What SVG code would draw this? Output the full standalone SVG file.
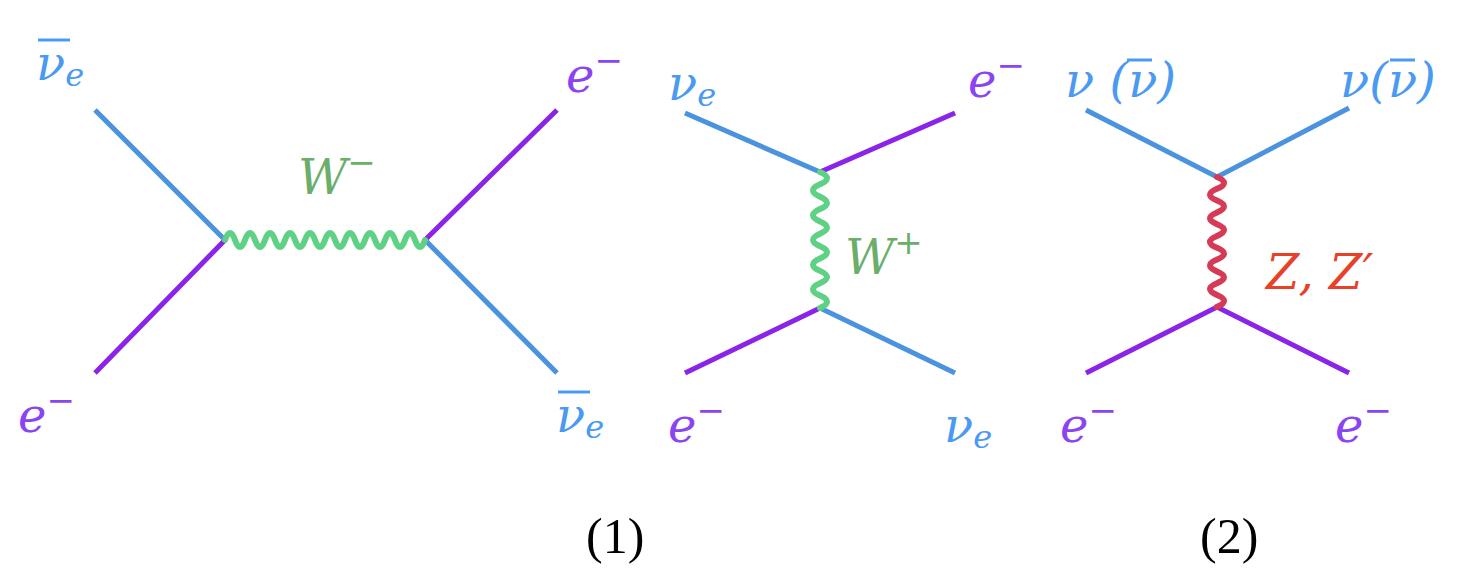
<svg xmlns="http://www.w3.org/2000/svg" width="1476" height="586" viewBox="0 0 1476 586">
<style>
.l{stroke-width:5;fill:none;stroke-linecap:butt}
.b{stroke:#4b93df}.p{stroke:#8a24e8}
.w{stroke-width:6;fill:none;stroke-linecap:round}
.ob{stroke:#4a9af2;stroke-width:3}
text{font-family:"DejaVu Serif","Liberation Serif",serif;font-style:italic;font-size:48px}
.tb{fill:#4a9af2}.tp{fill:#8b45f0}
.n{font-family:"Liberation Serif",serif;font-style:normal;fill:#000;font-size:50px}
</style>
<rect width="1476" height="586" fill="#fff"/>
<g id="connectors">
<path class="l b" d="M95,110L225,240M425,240L557,373"/>
<path class="l p" d="M95,373L225,240M425,240L557,110"/>
<path class="w" stroke="#5fd185" d="M225,240q5,-14 10,0t10,0t10,0t10,0t10,0t10,0t10,0t10,0t10,0t10,0t10,0t10,0t10,0t10,0t10,0t10,0t10,0t10,0t10,0t10,0"/>
<path class="l b" d="M685,113L820,172M820,308L955,373"/>
<path class="l p" d="M820,172L955,113M685,373L820,308"/>
<path class="w" stroke="#5fd185" d="M820,172q14,6.18 0,12.36t0,12.36t0,12.36t0,12.36t0,12.36t0,12.36t0,12.36t0,12.36t0,12.36t0,12.36t0,12.36"/>
<path class="l b" d="M1086,110L1217,177L1349,108"/>
<path class="l p" d="M1086,373L1217,307L1349,373"/>
<path class="w" stroke="#d63a55" d="M1217,177q14,5.9 0,11.8t0,11.8t0,11.8t0,11.8t0,11.8t0,11.8t0,11.8t0,11.8t0,11.8t0,11.8t0,11.8"/>
</g>
<g id="d1">
<line class="ob" x1="38" y1="40" x2="70" y2="40"/>
<text x="36" y="80" class="tb">ν<tspan font-size="32" dy="6">e</tspan></text>
<text x="18" y="432" class="tp">e<tspan font-size="34" dy="-20">−</tspan></text>
<text x="298" y="194" fill="#6aae6a">W<tspan font-size="34" dy="-20">−</tspan></text>
<text x="566" y="92" class="tp">e<tspan font-size="34" dy="-20">−</tspan></text>
<line class="ob" x1="558" y1="392" x2="590" y2="392"/>
<text x="556" y="432" class="tb">ν<tspan font-size="32" dy="6">e</tspan></text>
</g>
<g id="d2">
<text x="668" y="100" class="tb">ν<tspan font-size="32" dy="6">e</tspan></text>
<text x="968" y="97" class="tp">e<tspan font-size="34" dy="-20">−</tspan></text>
<text x="845" y="274" fill="#6aae6a">W<tspan font-size="34" dy="-20">+</tspan></text>
<text x="668" y="442" class="tp">e<tspan font-size="34" dy="-20">−</tspan></text>
<text x="944" y="442" class="tb">ν<tspan font-size="32" dy="6">e</tspan></text>
</g>
<g id="d3">
<text x="1065" y="97" class="tb">ν (ν)</text>
<line class="ob" x1="1127" y1="60" x2="1152" y2="60"/>
<text x="1340" y="97" class="tb">ν(ν)</text>
<line class="ob" x1="1390" y1="60" x2="1415" y2="60"/>
<text x="1266" y="289" fill="#e8412a">Z, Z′</text>
<text x="1060" y="442" class="tp">e<tspan font-size="34" dy="-20">−</tspan></text>
<text x="1335" y="442" class="tp">e<tspan font-size="34" dy="-20">−</tspan></text>
</g>
<text x="586" y="553" class="n">(1)</text>
<text x="1200" y="553" class="n">(2)</text>
</svg>
